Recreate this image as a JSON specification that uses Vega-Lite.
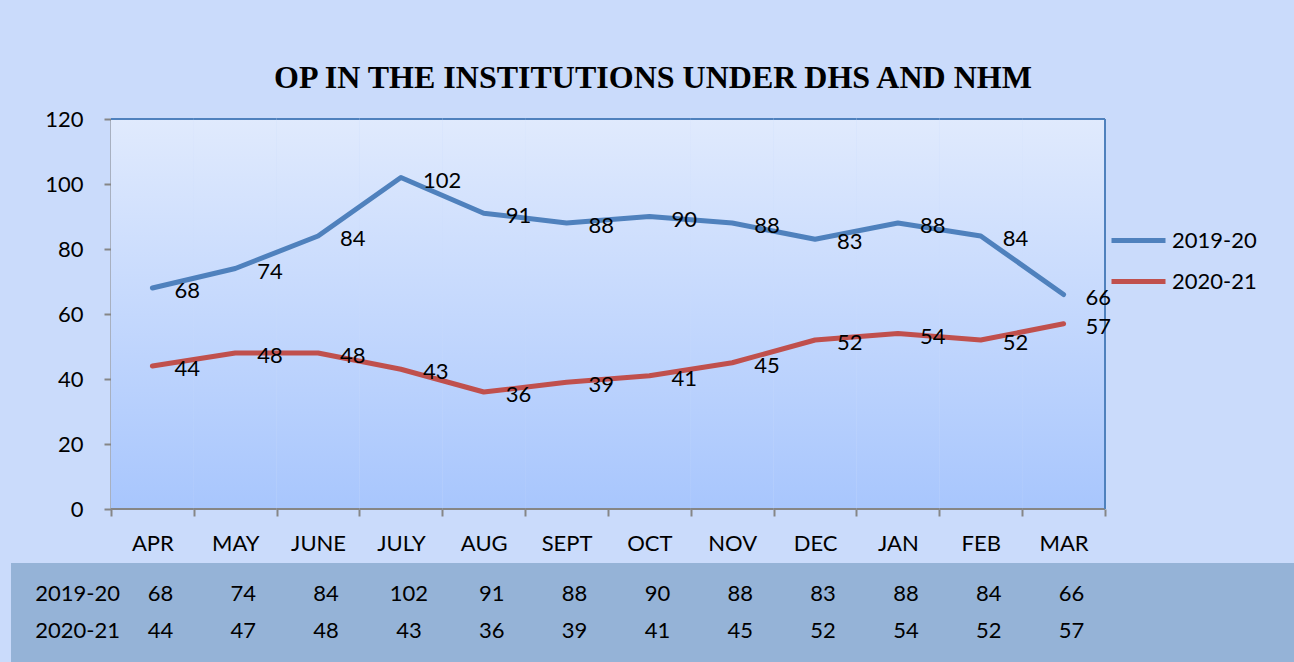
{
  "$schema": "https://vega.github.io/schema/vega-lite/v6.json",
  "background": "#cadbfb",
  "padding": {"left": 11, "top": 62, "right": 0, "bottom": 0},
  "columns": 1,
  "spacing": 9,
  "config": {
    "font": "Lato",
    "view": {"stroke": null},
    "axis": {"labelFont": "Lato", "labelFontSize": 22, "labelColor": "#000000", "domainColor": "#868686", "tickColor": "#868686", "domainWidth": 2, "tickWidth": 2, "grid": false, "title": null}
  },
  "datasets": {
    "op": [
      {"month": "APR", "series": "2019-20", "value": 68, "table": 68},
      {"month": "MAY", "series": "2019-20", "value": 74, "table": 74},
      {"month": "JUNE", "series": "2019-20", "value": 84, "table": 84},
      {"month": "JULY", "series": "2019-20", "value": 102, "table": 102},
      {"month": "AUG", "series": "2019-20", "value": 91, "table": 91},
      {"month": "SEPT", "series": "2019-20", "value": 88, "table": 88},
      {"month": "OCT", "series": "2019-20", "value": 90, "table": 90},
      {"month": "NOV", "series": "2019-20", "value": 88, "table": 88},
      {"month": "DEC", "series": "2019-20", "value": 83, "table": 83},
      {"month": "JAN", "series": "2019-20", "value": 88, "table": 88},
      {"month": "FEB", "series": "2019-20", "value": 84, "table": 84},
      {"month": "MAR", "series": "2019-20", "value": 66, "table": 66},
      {"month": "APR", "series": "2020-21", "value": 44, "table": 44},
      {"month": "MAY", "series": "2020-21", "value": 48, "table": 47},
      {"month": "JUNE", "series": "2020-21", "value": 48, "table": 48},
      {"month": "JULY", "series": "2020-21", "value": 43, "table": 43},
      {"month": "AUG", "series": "2020-21", "value": 36, "table": 36},
      {"month": "SEPT", "series": "2020-21", "value": 39, "table": 39},
      {"month": "OCT", "series": "2020-21", "value": 41, "table": 41},
      {"month": "NOV", "series": "2020-21", "value": 45, "table": 45},
      {"month": "DEC", "series": "2020-21", "value": 52, "table": 52},
      {"month": "JAN", "series": "2020-21", "value": 54, "table": 54},
      {"month": "FEB", "series": "2020-21", "value": 52, "table": 52},
      {"month": "MAR", "series": "2020-21", "value": 57, "table": 57}
    ]
  },
  "concat": [
    {
      "width": 1094,
      "height": 390,
      "title": {"text": "OP IN THE INSTITUTIONS UNDER DHS AND NHM", "font": "Liberation Serif", "fontSize": 32, "fontWeight": "bold", "color": "#000000", "offset": 13, "dx": 95},
      "view": {"fill": null, "stroke": null},
      "data": {"name": "op"},
      "encoding": {
        "x": {"field": "month", "type": "nominal", "sort": ["APR", "MAY", "JUNE", "JULY", "AUG", "SEPT", "OCT", "NOV", "DEC", "JAN", "FEB", "MAR"], "scale": {"type": "band", "paddingInner": 0, "paddingOuter": 0.6036, "align": 1}, "axis": {"tickBand": "extent", "tickSize": 7, "labelPadding": 17, "labelAngle": 0, "domain": false}}
      },
      "layer": [
        {
          "transform": [{"filter": "datum.series === '2019-20'"}],
          "mark": {"type": "bar", "fill": {"gradient": "linear", "x1": 0, "y1": 0, "x2": 0, "y2": 1, "stops": [{"offset": 0, "color": "#e0eafd"}, {"offset": 1, "color": "#a8c6fd"}]}, "strokeWidth": 0},
          "encoding": {
            "y": {"datum": 120, "type": "quantitative", "scale": {"domain": [0, 120]}, "axis": {"values": [0, 20, 40, 60, 80, 100, 120], "tickSize": 7, "labelPadding": 21, "offset": -100}}
          }
        },
        {
          "transform": [{"filter": "datum.series === '2019-20'"}],
          "mark": {"type": "bar", "fill": null, "stroke": "#4f81bd", "strokeWidth": 2},
          "encoding": {
            "y": {"datum": 120, "type": "quantitative"},
            "y2": {"datum": 120}
          }
        },
        {
          "transform": [{"filter": "datum.series === '2019-20'"}],
          "mark": {"type": "bar", "fill": null, "stroke": "#868686", "strokeWidth": 2},
          "encoding": {
            "y": {"datum": 0, "type": "quantitative"},
            "y2": {"datum": 0}
          }
        },
        {
          "transform": [{"filter": "datum.series === '2019-20' && datum.month === 'MAR'"}],
          "mark": {"type": "rule", "color": "#4f81bd", "strokeWidth": 2},
          "encoding": {
            "x": {"field": "month", "type": "nominal", "bandPosition": 1},
            "y": {"datum": 0, "type": "quantitative"},
            "y2": {"datum": 120}
          }
        },
        {
          "mark": {"type": "line", "strokeWidth": 5, "strokeCap": "round", "strokeJoin": "round"},
          "encoding": {
            "y": {"field": "value", "type": "quantitative"},
            "color": {"field": "series", "type": "nominal", "scale": {"domain": ["2019-20", "2020-21"], "range": ["#4f81bd", "#c0504d"]},
              "legend": {"orient": "none", "legendX": 1098, "legendY": 92, "title": null, "padding": 0, "symbolType": "stroke", "symbolStrokeWidth": 5, "symbolSize": 2916, "labelFontSize": 22, "labelFont": "Lato", "labelColor": "#000000", "rowPadding": -7, "labelOffset": 4}}
          }
        },
        {
          "mark": {"type": "text", "align": "left", "baseline": "middle", "dx": 22, "dy": 3, "fontSize": 22, "color": "#000000"},
          "encoding": {
            "y": {"field": "value", "type": "quantitative"},
            "text": {"field": "value"}
          }
        }
      ]
    },
    {
      "width": 1283,
      "height": 110,
      "view": {"fill": "#95b3d7", "stroke": null},
      "data": {"name": "op"},
      "encoding": {
        "y": {"field": "series", "type": "nominal", "scale": {"type": "point", "padding": 0.986, "align": 0.43}, "axis": null}
      },
      "layer": [
        {
          "mark": {"type": "text", "fontSize": 22, "dx": 8, "baseline": "middle", "color": "#000000"},
          "encoding": {
            "x": {"field": "month", "type": "nominal", "scale": {"type": "band", "domain": ["LBL", "APR", "MAY", "JUNE", "JULY", "AUG", "SEPT", "OCT", "NOV", "DEC", "JAN", "FEB", "MAR", "E1", "E2"], "paddingInner": 0, "paddingOuter": 0.245, "align": 0.424}, "axis": null},
            "text": {"field": "table"}
          }
        },
        {
          "transform": [{"aggregate": [{"op": "count", "as": "n"}], "groupby": ["series"]}],
          "mark": {"type": "text", "fontSize": 22, "dx": 8, "baseline": "middle", "color": "#000000"},
          "encoding": {
            "x": {"datum": "LBL"},
            "text": {"field": "series"}
          }
        }
      ]
    }
  ]
}
